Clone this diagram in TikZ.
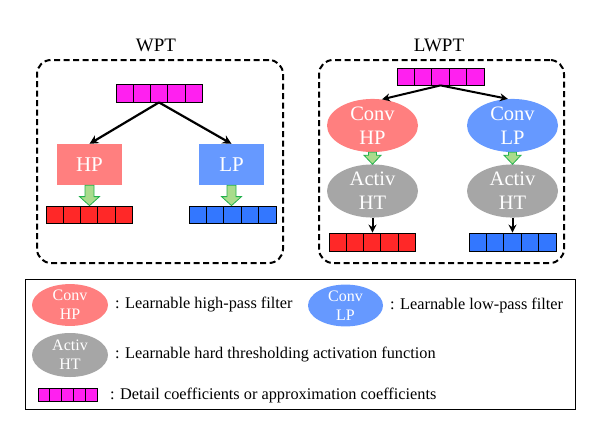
\documentclass[tikz,border=0pt]{standalone}
\usepackage{fontspec}
\setmainfont{Liberation Serif}
\usetikzlibrary{shapes.geometric,arrows.meta,calc}
\definecolor{magc}{HTML}{FF20F0}
\definecolor{redc}{HTML}{FF2828}
\definecolor{bluec}{HTML}{3377FF}
\definecolor{hpc}{HTML}{FF7F7F}
\definecolor{lpc}{HTML}{6699FF}
\definecolor{grayc}{HTML}{A6A6A6}
\definecolor{gfill}{HTML}{A9DC8C}
\definecolor{gdraw}{HTML}{22B14C}
\tikzset{
  cellbox/.style={draw=black, line width=0.8pt, inner sep=0pt},
  bigarr/.style={minimum width=86pt, minimum height=18pt},
  dbox/.style={draw=black, line width=2pt, dash pattern=on 6pt off 3.5pt, rounded corners=14pt, inner sep=0pt},
  filt/.style={rectangle, inner sep=0pt, minimum width=65pt, minimum height=41pt, text=white, font=\fontsize{21}{24}\selectfont},
  ell/.style={ellipse, inner sep=0pt, text=white, align=center, font=\fontsize{20.5}{24}\selectfont},
  lell/.style={ellipse, inner sep=0pt, text=white, align=center, font=\fontsize{16}{19}\selectfont, minimum width=76pt},
  ttl/.style={font=\fontsize{19}{21}\selectfont},
  ltxt/.style={anchor=west, inner sep=0pt, font=\fontsize{16.3}{18}\selectfont},
  arr/.style={line width=2.2pt, -{Stealth[length=9pt,width=9pt]}},
  arrs/.style={line width=2pt, -{Stealth[length=8pt,width=8pt]}},
  garr/.style={fill=gfill, draw=gdraw, line width=0.8pt, line join=miter},
  divline/.style={line width=0.8pt}
}
\newcommand{\divs}[1]{%
  \foreach \k in {1,2,3,4}{\draw[divline] ($(#1.south west)!\k/5!(#1.south east)$) -- ($(#1.north west)!\k/5!(#1.north east)$);}}
\newcommand{\garrow}[5]{% from, to, head length, shaft half, head half
  \draw[garr] let \p1=(#1), \p2=(#2) in
    (\x1-#4,\y1) -- (\x1+#4,\y1) -- (\x1+#4,\y2+#3) -- (\x1+#5,\y2+#3)
    -- (\x1,\y2) -- (\x1-#5,\y2+#3) -- (\x1-#4,\y2+#3) -- cycle;}
\begin{document}
\begin{tikzpicture}[x=1pt,y=-1pt]
\useasboundingbox (0,0) rectangle (596,442);

% titles
\node[ttl] (t1) at (156,45) {WPT};
\node[ttl] (t2) at (439,45) {LWPT};

% dashed frames
\node[dbox, minimum width=246pt, minimum height=203pt] (f1) at (160,161.5) {};
\node[dbox, minimum width=245pt, minimum height=203pt] (f2) at (441.5,161.5) {};

% WPT
\node[cellbox, bigarr, fill=magc] (m1) at (159,93) {};
\divs{m1}
\node[filt, fill=hpc] (hp) at (89.5,164.5) {HP};
\node[filt, fill=lpc] (lp) at (231.5,164.5) {LP};
\node[cellbox, bigarr, fill=redc, minimum height=17pt] (r1) at (89,214.5) {};
\divs{r1}
\node[cellbox, bigarr, fill=bluec, minimum height=17pt, minimum width=87pt] (u1) at (232.5,214.5) {};
\divs{u1}
\draw[arr] (m1.south) -- (hp.north);
\draw[arr] (m1.south) -- (lp.north);
\garrow{hp.south}{r1.north}{9pt}{4.5pt}{10pt}
\garrow{lp.south}{u1.north}{9pt}{4.5pt}{10pt}

% LWPT
\node[cellbox, bigarr, fill=magc, minimum width=87pt, minimum height=17pt] (m2) at (440.5,76.5) {};
\divs{m2}
\node[ell, fill=hpc, minimum width=91pt, minimum height=45pt] (chp) at (372.5,125.5) {Conv\\HP};
\node[ell, fill=lpc, minimum width=91pt, minimum height=45pt] (clp) at (512.5,125.5) {Conv\\LP};
\node[ell, fill=grayc, minimum width=91pt, minimum height=48pt] (ahp) at (372.5,191) {Activ\\HT};
\node[ell, fill=grayc, minimum width=91pt, minimum height=48pt] (alp) at (512.5,191) {Activ\\HT};
\node[cellbox, bigarr, fill=redc] (r2) at (372,242) {};
\divs{r2}
\node[cellbox, bigarr, fill=bluec, minimum width=87pt] (u2) at (512.5,242) {};
\divs{u2}
\draw[arrs] (m2.south) -- (chp.70);
\draw[arrs] (m2.south) -- (clp.100);
\garrow{chp.south}{ahp.north}{9pt}{4pt}{8.5pt}
\garrow{clp.south}{alp.north}{9pt}{4pt}{8.5pt}
\draw[arrs] (ahp.south) -- (ahp.south |- r2.north);
\draw[arrs] (alp.south) -- (alp.south |- u2.north);

% legend
\node[draw=black, line width=1pt, minimum width=550pt, minimum height=130pt, inner sep=0pt] (lg) at (300,344) {};
\node[lell, fill=hpc, minimum height=40pt] (lc1) at (70,305) {Conv\\HP};
\node[ltxt] (lt1) at (115,305) {: Learnable high-pass filter};
\node[lell, fill=lpc, minimum width=75pt, minimum height=39pt] (lc2) at (345.5,305.5) {Conv\\LP};
\node[ltxt] (lt2) at (390,305) {: Learnable low-pass filter};
\node[lell, fill=grayc, minimum height=44pt] (la) at (70,355) {Activ\\HT};
\node[ltxt] (lt3) at (115,355) {: Learnable hard thresholding activation function};
\node[cellbox, fill=magc, minimum width=59pt, minimum height=13pt] (lm) at (67.5,394.5) {};
\divs{lm}
\node[ltxt] (lt4) at (110,395) {: Detail coefficients or approximation coefficients};
\end{tikzpicture}
\end{document}
